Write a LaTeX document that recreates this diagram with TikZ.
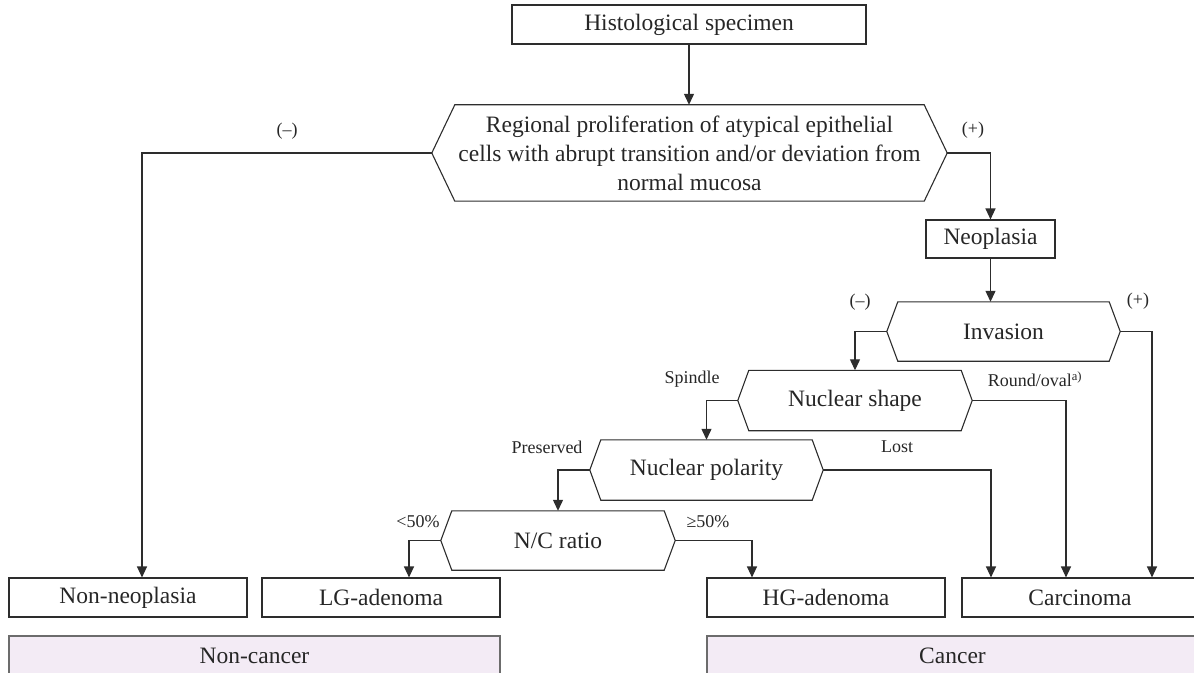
\documentclass[tikz,border=0pt]{standalone}
\usepackage{fontspec}
\setmainfont{Liberation Serif}
\usetikzlibrary{arrows.meta}
\definecolor{linec}{RGB}{45,45,45}
\definecolor{lav}{RGB}{243,235,245}
\newcommand\mainf{\fontsize{23.5bp}{29bp}\selectfont}
\newcommand\labf{\fontsize{18bp}{21bp}\selectfont}
\newcommand\hexdraw[2]{\draw[hexline] ([xshift=#2]#1.north west) -- (#1.west) -- ([xshift=#2]#1.south west) -- ([xshift=-#2]#1.south east) -- (#1.east) -- ([xshift=-#2]#1.north east) -- cycle;}
\tikzset{
  box/.style={draw=linec, line width=1.1bp, minimum height=39bp, inner sep=0pt, font=\mainf, text=black!85},
  catbox/.style={draw=linec!70, line width=1.1bp, fill=lav, minimum height=40bp, inner sep=0pt, font=\mainf, text=black!85},
  hexn/.style={inner sep=0pt, font=\mainf, align=center, text=black!85},
  hexline/.style={draw=linec, line width=1.1bp},
  lab/.style={font=\labf, inner sep=0pt, text=black!85},
  conn/.style={draw=linec, line width=1.2bp, -{Triangle[length=11bp,width=10bp]}},
}
\begin{document}
\begin{tikzpicture}[x=1bp,y=-1bp]
\useasboundingbox (0,0) rectangle (1194,673);
% nodes
\node[box, minimum width=354bp] (spec) at (689,24.5) {Histological specimen};
\node[hexn, minimum width=515bp, minimum height=96bp] (reg) at (689.5,153) {Regional proliferation of atypical epithelial\\cells with abrupt transition and/or deviation from\\normal mucosa};
\hexdraw{reg}{23bp}
\node[box, minimum width=129bp, minimum height=38bp] (neo) at (990.5,239) {Neoplasia};
\node[hexn, minimum width=233bp, minimum height=59bp] (inv) at (1003.5,331.5) {Invasion};
\hexdraw{inv}{11bp}
\node[hexn, minimum width=234bp, minimum height=60bp] (nsh) at (855,400.5) {Nuclear shape};
\hexdraw{nsh}{11bp}
\node[hexn, minimum width=233bp, minimum height=60bp] (npol) at (706.5,470) {Nuclear polarity};
\hexdraw{npol}{11bp}
\node[hexn, minimum width=234bp, minimum height=59bp] (ncr) at (558,540.5) {N/C ratio};
\hexdraw{ncr}{11bp}
\node[box, minimum width=238bp] (nonneo) at (128,597.5) {Non-neoplasia};
\node[box, minimum width=238bp] (lg) at (381,597.5) {LG-adenoma};
\node[box, minimum width=238bp] (hg) at (826,597.5) {HG-adenoma};
\node[box, minimum width=236bp] (carc) at (1080,597.5) {Carcinoma};
\node[catbox, minimum width=491bp] (noncan) at (254.5,656) {Non-cancer};
\node[catbox, minimum width=491bp] (can) at (952.5,656) {Cancer};
% labels
\node[lab] (l1) at (287,131) {(–)};
\node[lab] (l2) at (973,130) {(+)};
\node[lab] (l3) at (860,302) {(–)};
\node[lab] (l4) at (1138,301) {(+)};
\node[lab] (l5) at (692,379) {Spindle};
\node[lab] (l6) at (1035,379) {Round/oval\textsuperscript{a)}};
\node[lab] (l7) at (547,447) {Preserved};
\node[lab] (l8) at (897,447) {Lost};
\node[lab] (l9) at (418,522) {<50\%};
\node[lab] (l10) at (708,522) {≥50\%};
% connectors
\draw[conn] (spec.south) -- (spec.south |- reg.north);
\draw[conn] (reg.west) -| ([xshift=14bp]nonneo.north);
\draw[conn] (reg.east) -| (neo.north);
\draw[conn] (neo.south) -- (neo.south |- inv.north);
\draw[conn] (inv.west) -| (nsh.north);
\draw[conn] (inv.east) -| ([xshift=72bp]carc.north);
\draw[conn] (nsh.west) -| (npol.north);
\draw[conn] (nsh.east) -| ([xshift=-14bp]carc.north);
\draw[conn] (npol.west) -| (ncr.north);
\draw[conn] (npol.east) -| ([xshift=-89bp]carc.north);
\draw[conn] (ncr.west) -| ([xshift=28bp]lg.north);
\draw[conn] (ncr.east) -| ([xshift=-74bp]hg.north);
\end{tikzpicture}
\end{document}
